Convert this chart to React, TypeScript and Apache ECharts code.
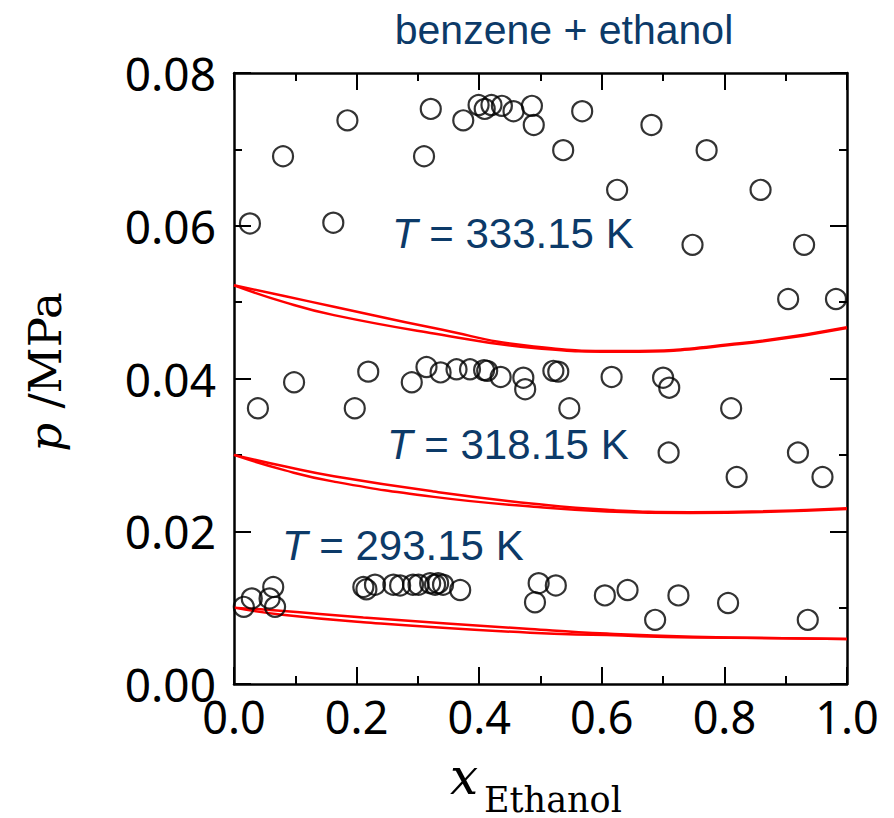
import React, { useEffect, useRef } from "react";
import * as echarts from "echarts";

// Experimental points, T = 333.15 K
const x333 = [0.026, 0.080, 0.162, 0.185, 0.310, 0.321, 0.374, 0.399, 0.409, 0.420, 0.437, 0.456, 0.486, 0.489, 0.537, 0.568, 0.625, 0.681, 0.748, 0.771, 0.859, 0.904, 0.930, 0.982];
const p333 = [0.0603, 0.0691, 0.0604, 0.0738, 0.0691, 0.0753, 0.0738, 0.0758, 0.0753, 0.0758, 0.0757, 0.0750, 0.0757, 0.0732, 0.0699, 0.0750, 0.0647, 0.0732, 0.0575, 0.0699, 0.0647, 0.0504, 0.0575, 0.0504];

// Experimental points, T = 318.15 K
const x318 = [0.039, 0.098, 0.197, 0.219, 0.290, 0.314, 0.337, 0.363, 0.385, 0.408, 0.413, 0.435, 0.472, 0.475, 0.521, 0.529, 0.547, 0.616, 0.700, 0.709, 0.710, 0.811, 0.820, 0.920, 0.960];
const p318 = [0.0361, 0.0395, 0.0361, 0.0409, 0.0395, 0.0415, 0.0408, 0.0412, 0.0412, 0.0411, 0.0410, 0.0402, 0.0401, 0.0386, 0.0410, 0.0409, 0.0361, 0.0402, 0.0401, 0.0303, 0.0388, 0.0361, 0.0271, 0.0303, 0.0271];

// Experimental points, T = 293.15 K
const x293 = [0.016, 0.029, 0.058, 0.064, 0.067, 0.211, 0.216, 0.230, 0.260, 0.271, 0.292, 0.301, 0.320, 0.328, 0.333, 0.341, 0.369, 0.491, 0.497, 0.525, 0.605, 0.642, 0.687, 0.725, 0.806, 0.936];
const p293 = [0.0101, 0.0112, 0.0112, 0.0127, 0.0101, 0.0127, 0.0124, 0.0130, 0.0130, 0.0129, 0.0130, 0.0130, 0.0132, 0.0130, 0.0132, 0.0130, 0.0123, 0.0107, 0.0132, 0.0129, 0.0116, 0.0123, 0.0084, 0.0116, 0.0106, 0.0084];

// Model curves (two per temperature)
const cx333a = [0, 0.082, 0.163, 0.326, 0.489, 0.635, 0.825, 1.0];
const cp333a = [0.0522, 0.0508, 0.0494, 0.0466, 0.0442, 0.0436, 0.0446, 0.0467];
const cx333b = [0, 0.082, 0.163, 0.326, 0.489, 0.635, 0.825, 1.0];
const cp333b = [0.0522, 0.0500, 0.0483, 0.0459, 0.0440, 0.0435, 0.0445, 0.0466];

const cx318a = [0, 0.082, 0.163, 0.326, 0.489, 0.608, 0.744, 1.0];
const cp318a = [0.0300, 0.0285, 0.0272, 0.0252, 0.0236, 0.0228, 0.0225, 0.0230];
const cx318b = [0, 0.082, 0.163, 0.326, 0.489, 0.608, 0.744, 1.0];
const cp318b = [0.0300, 0.0280, 0.0265, 0.0245, 0.0232, 0.0226, 0.0224, 0.0229];

const cx293a = [0, 0.075, 0.211, 0.483, 0.608, 0.749, 1.0];
const cp293a = [0.0100, 0.0096, 0.0087, 0.0072, 0.0066, 0.0062, 0.0059];
const cx293b = [0, 0.075, 0.211, 0.483, 0.608, 0.749, 1.0];
const cp293b = [0.0100, 0.0091, 0.0081, 0.0067, 0.0064, 0.0061, 0.0059];

const titleText = "benzene + ethanol";
const labels = ["333.15", "318.15", "293.15"];

const zip = (xs: number[], ys: number[]) => xs.map((x, i) => [x, ys[i]]);

const NAVY = "#0c3a68";

export default function App() {
  const ref = useRef<HTMLDivElement>(null);
  useEffect(() => {
    if (!ref.current) return;
    const chart = echarts.init(ref.current, null, { renderer: "svg" });

    const axisLine = { show: true, onZero: false, lineStyle: { color: "#000", width: 2.5 } };

    const xBase = {
      type: "value" as const,
      min: 0,
      max: 1,
      interval: 0.2,
      axisLine,
      axisTick: { show: true, inside: true, length: 17, lineStyle: { color: "#000", width: 2 } },
      minorTick: { show: true, splitNumber: 2, length: 8, lineStyle: { color: "#000", width: 2 } },
      splitLine: { show: false },
      minorSplitLine: { show: false },
    };
    const yBase = {
      type: "value" as const,
      min: 0,
      max: 0.08,
      interval: 0.02,
      axisLine,
      axisTick: { show: true, inside: true, length: 17, lineStyle: { color: "#000", width: 2 } },
      minorTick: { show: true, splitNumber: 2, length: 8, lineStyle: { color: "#000", width: 2 } },
      splitLine: { show: false },
      minorSplitLine: { show: false },
    };

    const scatter = (xs: number[], ys: number[]) => ({
      type: "scatter" as const,
      data: zip(xs, ys),
      symbol: "circle",
      symbolSize: 20,
      itemStyle: { color: "rgba(0,0,0,0)", borderColor: "#000", borderWidth: 2.2 },
      z: 3,
    });
    const curve = (xs: number[], ys: number[]) => ({
      type: "line" as const,
      data: zip(xs, ys),
      smooth: 0.5,
      showSymbol: false,
      symbol: "none",
      lineStyle: { color: "#ff0000", width: 2.5 },
      z: 2,
    });

    const annot = (x: number, y: number, t: string) => ({
      type: "text" as const,
      x,
      y,
      style: {
        text: `{i|T} = ${t} K`,
        fill: NAVY,
        font: "42px 'Liberation Sans'",
        verticalAlign: "middle",
        rich: {
          i: { fontStyle: "italic", fontSize: 42, fontFamily: "Liberation Sans", fill: NAVY, color: NAVY },
        },
      },
    });

    chart.setOption({
      animation: false,
      backgroundColor: "#fff",
      grid: { left: 234, right: 47, top: 73, bottom: 134, containLabel: false },
      xAxis: [
        {
          ...xBase,
          position: "bottom",
          axisLabel: {
            fontFamily: "Noto Sans",
            fontSize: 45,
            color: "#000",
            margin: 10,
            formatter: (v: number) => v.toFixed(1),
          },
        },
        { ...xBase, position: "top", axisLabel: { show: false } },
      ],
      yAxis: [
        {
          ...yBase,
          position: "left",
          axisLabel: {
            fontFamily: "Noto Sans",
            fontSize: 46,
            color: "#000",
            margin: 18,
            formatter: (v: number) => v.toFixed(2),
          },
        },
        { ...yBase, position: "right", axisLabel: { show: false } },
      ],
      series: [
        curve(cx333a, cp333a),
        curve(cx333b, cp333b),
        curve(cx318a, cp318a),
        curve(cx318b, cp318b),
        curve(cx293a, cp293a),
        curve(cx293b, cp293b),
        scatter(x333, p333),
        scatter(x318, p318),
        scatter(x293, p293),
      ],
      graphic: [
        {
          type: "text",
          x: 564,
          y: 30,
          style: {
            text: titleText,
            fill: NAVY,
            font: "41px 'Liberation Sans'",
            align: "center",
            verticalAlign: "middle",
          },
        },
        annot(392, 233, labels[0]),
        annot(387, 444, labels[1]),
        annot(282, 545, labels[2]),
        {
          type: "text",
          x: 45,
          y: 372,
          rotation: Math.PI / 2,
          style: {
            text: "{i|p}{n| /MPa}",
            fill: "#000",
            font: "45px 'DejaVu Serif'",
            align: "center",
            verticalAlign: "middle",
            rich: {
              i: { fontStyle: "italic", fontFamily: "DejaVu Serif", fontSize: 45, fill: "#000" },
              n: { fontFamily: "DejaVu Serif", fontSize: 45, fill: "#000" },
            },
          },
        },
        {
          type: "text",
          x: 464,
          y: 777,
          style: {
            text: "x",
            fill: "#000",
            font: "italic 50px 'DejaVu Serif'",
            align: "center",
            verticalAlign: "middle",
          },
        },
        {
          type: "text",
          x: 484,
          y: 817,
          style: {
            text: "Ethanol",
            fill: "#000",
            font: "35px 'DejaVu Serif'",
            align: "left",
            verticalAlign: "bottom",
          },
        },
      ],
    });
    return () => chart.dispose();
  }, []);
  return (
    <div
      ref={ref}
      style={{ position: "absolute", left: 0, top: 0, width: 894, height: 818, background: "#fff" }}
    />
  );
}
